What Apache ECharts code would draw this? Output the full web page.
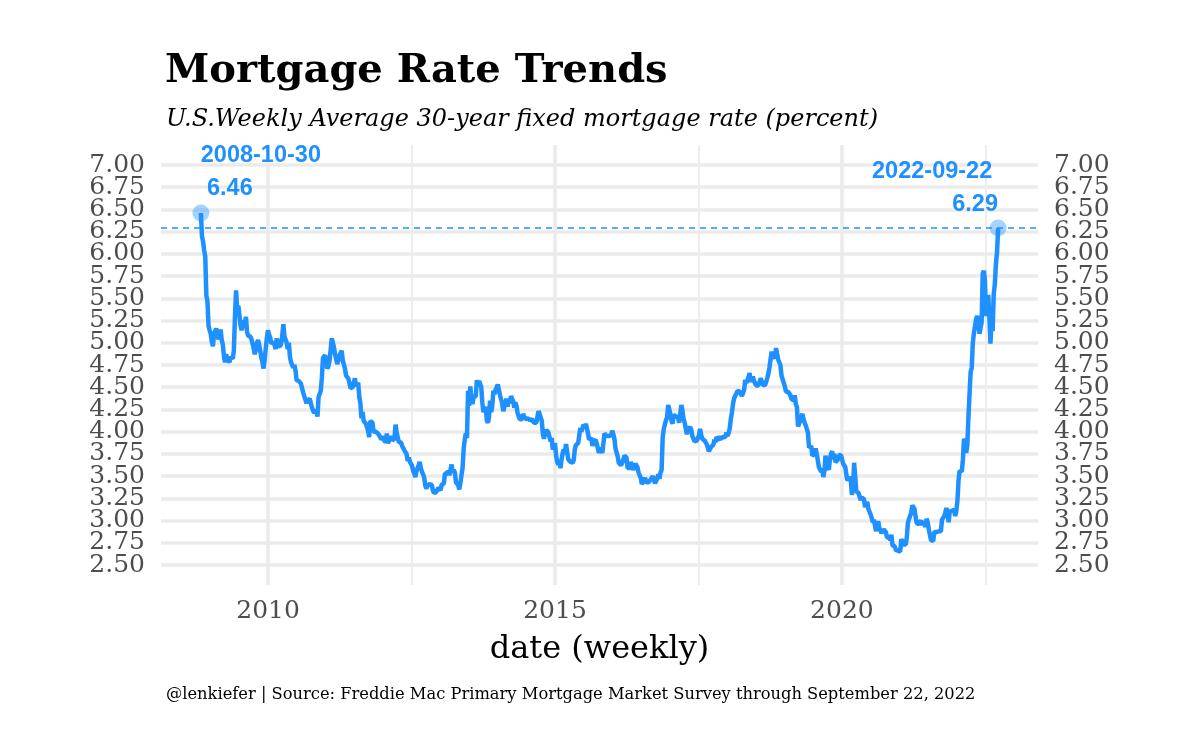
<!DOCTYPE html>
<html><head><meta charset="utf-8">
<script src="https://cdn.jsdelivr.net/npm/echarts@6/dist/echarts.min.js"></script>
<style>html,body{margin:0;padding:0;background:#fff}#c{width:1200px;height:750px}</style>
</head><body><div id="c"></div>
<script>
// Freddie Mac PMMS, 30-year fixed, weekly (percent). Each array starts at the date in weekStarts.
const weekStarts = ['2008-10-30','2009-01-01','2010-01-07','2011-01-06','2012-01-05','2013-01-03','2014-01-02',
  '2015-01-01','2016-01-07','2017-01-05','2018-01-04','2019-01-03','2020-01-02','2021-01-07','2022-01-06'];
const rates2008 = [6.46,6.20,6.14,6.04,5.97,5.53,5.47,5.19,5.14];
const rates2009 = [5.10,5.01,4.96,5.10,5.10, 5.16,5.14,5.04,5.07, 5.15,5.03,4.98,4.85, 4.78,4.87,4.82,4.80,4.78,
  4.84,4.86,4.82,4.91, 5.29,5.59,5.38,5.42, 5.32,5.20,5.14,5.20,5.25, 5.22,5.29,5.12,5.08, 5.08,5.07,5.04,5.04,
  4.94,4.87,4.92,5.00,5.03, 4.98,4.91,4.83,4.78, 4.71,4.81,4.94,5.05,5.14];
const rates2010 = [5.09,5.06,4.99,4.98, 5.01,4.97,4.93,5.05, 4.97,4.95,4.96,4.99, 5.08,5.21,5.07,5.07,5.00,
  4.93,5.00,4.84,4.78, 4.79,4.72,4.75,4.69, 4.58,4.57,4.57,4.56,4.54, 4.49,4.44,4.42,4.36, 4.32,4.35,4.37,4.37,4.32,
  4.27,4.24,4.21,4.23, 4.24,4.17,4.39,4.40, 4.46,4.61,4.83,4.81,4.86];
const rates2011 = [4.77,4.71,4.74,4.80, 4.81,5.05,5.00,4.95, 4.87,4.88,4.76,4.81,4.86, 4.87,4.91,4.80,4.78,
  4.71,4.63,4.61,4.60, 4.55,4.49,4.50,4.50,4.51, 4.60,4.51,4.52,4.55, 4.39,4.32,4.15,4.22, 4.12,4.12,4.09,4.09,4.01,
  3.94,4.12,4.11,4.10, 4.00,3.99,4.00,3.98, 3.98,3.99,3.94,3.91,3.95];
const rates2012 = [3.91,3.89,3.88,3.98, 3.87,3.87,3.92,3.95, 3.90,3.88,3.92,4.08,3.99, 3.98,3.88,3.90,3.88,
  3.84,3.83,3.79,3.78,3.75, 3.67,3.71,3.66,3.66, 3.62,3.56,3.53,3.49, 3.55,3.59,3.62,3.66,3.59, 3.55,3.55,3.49,3.40,
  3.36,3.39,3.37,3.41, 3.40,3.40,3.34,3.31,3.32, 3.32,3.32,3.37,3.35];
const rates2013 = [3.34,3.40,3.38,3.42,3.53, 3.53,3.53,3.56,3.51, 3.52,3.63,3.54,3.57, 3.54,3.43,3.41,3.40,
  3.35,3.42,3.51,3.59,3.81, 3.91,3.98,3.93,4.46, 4.29,4.51,4.37,4.31, 4.39,4.40,4.40,4.58,4.51, 4.57,4.57,4.50,4.32,
  4.22,4.23,4.28,4.13,4.10, 4.16,4.35,4.22,4.29, 4.46,4.42,4.47,4.48];
const rates2014 = [4.53,4.51,4.41,4.39,4.32, 4.23,4.28,4.33,4.37, 4.28,4.37,4.32,4.40, 4.41,4.34,4.27,4.33,
  4.29,4.21,4.20,4.14,4.12, 4.14,4.20,4.17,4.14, 4.15,4.15,4.13,4.13,4.12, 4.14,4.12,4.10,4.10, 4.10,4.12,4.23,4.20,
  4.19,4.12,3.97,3.92,3.98, 4.02,4.01,3.99,3.97, 3.89,3.93,3.80,3.83];
const rates2015 = [3.87,3.73,3.66,3.63,3.66, 3.59,3.69,3.76,3.80, 3.75,3.86,3.78,3.69, 3.70,3.66,3.67,3.65,3.68,
  3.80,3.85,3.84,3.87, 3.87,4.04,4.00,4.02, 4.08,4.04,4.09,4.04,3.98, 3.91,3.93,3.93,3.84, 3.89,3.90,3.91,3.86,
  3.85,3.76,3.82,3.79,3.76, 3.87,3.98,3.97,3.95, 3.93,3.95,3.97,3.96,4.01];
const rates2016 = [3.97,3.92,3.81,3.79, 3.72,3.65,3.65,3.62, 3.64,3.68,3.73,3.71,3.71, 3.59,3.58,3.59,3.66,
  3.61,3.57,3.58,3.64, 3.66,3.60,3.54,3.56,3.48, 3.41,3.42,3.45,3.48, 3.43,3.45,3.43,3.43, 3.46,3.44,3.50,3.48,3.42,
  3.42,3.47,3.52,3.47, 3.54,3.57,3.94,4.03, 4.08,4.13,4.16,4.30,4.32];
const rates2017 = [4.20,4.12,4.09,4.19, 4.19,4.17,4.15,4.16, 4.10,4.21,4.30,4.23,4.14, 4.10,4.08,3.97,4.03,
  4.02,4.05,4.02,3.95, 3.94,3.89,3.91,3.90,3.88, 3.96,4.03,3.96,3.92, 3.93,3.90,3.89,3.86,3.82, 3.78,3.78,3.83,3.83,
  3.85,3.91,3.88,3.94, 3.94,3.90,3.95,3.92,3.90, 3.94,3.93,3.94,3.99];
const rates2018 = [3.95,3.99,4.04,4.15, 4.22,4.32,4.38,4.40, 4.43,4.46,4.44,4.45,4.44, 4.40,4.42,4.47,4.58,
  4.55,4.55,4.61,4.66,4.56, 4.54,4.62,4.57,4.55, 4.52,4.53,4.52,4.54, 4.60,4.59,4.53,4.51,4.52, 4.54,4.60,4.65,4.72,
  4.71,4.90,4.85,4.86, 4.83,4.94,4.94,4.81,4.81, 4.75,4.63,4.62,4.55];
const rates2019 = [4.51,4.45,4.45,4.45,4.46, 4.41,4.37,4.35,4.35, 4.41,4.31,4.28,4.06, 4.08,4.12,4.17,4.20,
  4.14,4.10,4.07,4.06,3.99, 3.82,3.82,3.84,3.73, 3.75,3.75,3.81,3.75, 3.75,3.60,3.60,3.55,3.58, 3.49,3.56,3.73,3.64,
  3.65,3.57,3.69,3.75,3.78, 3.69,3.75,3.66,3.68, 3.68,3.73,3.73,3.74];
const rates2020 = [3.72,3.64,3.65,3.60,3.51, 3.45,3.47,3.49,3.45, 3.29,3.36,3.65,3.50, 3.33,3.33,3.31,3.33,3.23,
  3.26,3.28,3.24,3.15, 3.18,3.21,3.13,3.13, 3.07,3.03,2.98,3.01,2.99, 2.88,2.96,2.99,2.91, 2.93,2.86,2.87,2.90,
  2.88,2.87,2.81,2.80,2.81, 2.78,2.84,2.72,2.72, 2.71,2.67,2.67,2.66,2.67];
const rates2021 = [2.65,2.79,2.77,2.73, 2.73,2.73,2.81,2.97, 3.02,3.05,3.09,3.17, 3.18,3.13,3.04,2.97,2.98,
  2.96,2.94,3.00,2.95, 2.99,2.96,2.93,3.02, 2.98,2.90,2.88,2.78,2.80, 2.77,2.87,2.86,2.87, 2.87,2.88,2.86,2.88,3.01,
  2.99,3.05,3.09,3.14, 3.09,2.98,3.10,3.10, 3.11,3.10,3.12,3.05,3.11];
const rates2022 = [3.22,3.45,3.56,3.55, 3.55,3.69,3.92,3.89, 3.76,3.85,4.16,4.42,4.67, 4.72,5.00,5.11,5.10,
  5.27,5.30,5.25,5.10, 5.09,5.23,5.78,5.81,5.70, 5.30,5.51,5.54,5.30, 4.99,5.22,5.13,5.55, 5.66,5.89,6.02,6.29];
const rateBlocks = [rates2008,rates2009,rates2010,rates2011,rates2012,rates2013,rates2014,rates2015,
  rates2016,rates2017,rates2018,rates2019,rates2020,rates2021,rates2022];

const yTicks = [2.50,2.75,3.00,3.25,3.50,3.75,4.00,4.25,4.50,4.75,5.00,5.25,5.50,5.75,6.00,6.25,6.50,6.75,7.00];
const xMajorTicks = [2010, 2015, 2020];
const xMinorTicks = [2012.5, 2017.5, 2022.5];

const BLUE = '#1E90FF';
const GRIDC = '#EBEBEB';
const SERIF = '"DejaVu Serif", serif';
const SANS = '"Liberation Sans", Arial, sans-serif';

function decYear(ms) {
  const y = new Date(ms).getUTCFullYear();
  const s = Date.UTC(y, 0, 1), e = Date.UTC(y + 1, 0, 1);
  return y + (ms - s) / (e - s);
}
function iso(ms) { return new Date(ms).toISOString().slice(0, 10); }

const points = [];
rateBlocks.forEach((arr, b) => {
  const t0 = Date.parse(weekStarts[b] + 'T00:00:00Z');
  arr.forEach((v, i) => {
    const t = t0 + i * 7 * 86400000;
    points.push([decYear(t), v, iso(t)]);
  });
});
const first = points[0], last = points[points.length - 1];
const xr = last[0] - first[0];
const xMin = first[0] - 0.05 * xr, xMax = last[0] + 0.05 * xr;
const yr = yTicks[yTicks.length - 1] - yTicks[0];
const yMin = yTicks[0] - 0.05 * yr, yMax = yTicks[yTicks.length - 1] + 0.05 * yr;

const gridLines = []
  .concat(yTicks.map(v => ({ yAxis: v, lineStyle: { color: GRIDC, width: 3.5, type: 'solid' } })))
  .concat(xMajorTicks.map(v => ({ xAxis: v, lineStyle: { color: GRIDC, width: 3.5, type: 'solid' } })))
  .concat(xMinorTicks.map(v => ({ xAxis: v, lineStyle: { color: GRIDC, width: 1.8, type: 'solid' } })));

// labels split into two interleaved sets per side so that ECharts does not drop crowded end labels
const evenTicks = yTicks.filter((v, i) => i % 2 === 0);
const oddTicks = yTicks.filter((v, i) => i % 2 === 1);
function yAxisFor(pos, ticks) {
  return {
    type: 'value', min: yMin, max: yMax, position: pos,
    axisLine: { show: false }, axisTick: { show: false }, splitLine: { show: false },
    axisLabel: { customValues: ticks, formatter: v => v.toFixed(2), color: '#4D4D4D',
      fontFamily: SERIF, fontSize: 25, margin: 16, hideOverlap: false }
  };
}

const annoLabel = { show: true, position: 'inside', color: BLUE, fontFamily: SANS, fontWeight: 'bold',
  fontSize: 23.5, textBorderWidth: 0, textBorderColor: 'transparent', textShadowBlur: 0, opacity: 1 };

const chart = echarts.init(document.getElementById('c'), null, { renderer: 'canvas' });
chart.setOption({
  animation: false,
  backgroundColor: '#fff',
  title: [
    { text: 'Mortgage Rate Trends', left: 160, top: 47,
      textStyle: { fontFamily: SERIF, fontWeight: 'bold', fontSize: 40, color: '#000' } },
    { text: 'U.S.Weekly Average 30-year fixed mortgage rate (percent)', left: 161, top: 103,
      textStyle: { fontFamily: SERIF, fontStyle: 'italic', fontWeight: 'normal', fontSize: 24, color: '#000' } },
    { text: '@lenkiefer | Source: Freddie Mac Primary Mortgage Market Survey through September 22, 2022',
      left: 161, top: 682,
      textStyle: { fontFamily: SERIF, fontWeight: 'normal', fontSize: 16.3, color: '#000' } }
  ],
  grid: { left: 161, right: 162, top: 145, bottom: 165 },
  xAxis: {
    type: 'value', min: xMin, max: xMax,
    name: 'date (weekly)', nameLocation: 'middle', nameGap: 49,
    nameTextStyle: { fontFamily: SERIF, fontSize: 32, color: '#000' },
    axisLine: { show: false }, axisTick: { show: false }, splitLine: { show: false },
    axisLabel: { customValues: xMajorTicks, formatter: v => String(Math.round(v)), color: '#4D4D4D',
      fontFamily: SERIF, fontSize: 25, margin: 14 }
  },
  yAxis: [
    yAxisFor('left', evenTicks),
    yAxisFor('left', oddTicks),
    yAxisFor('right', evenTicks),
    yAxisFor('right', oddTicks)
  ],
  series: [
    {
      type: 'line', name: '30-year fixed', data: points, showSymbol: false, symbol: 'none',
      lineStyle: { color: BLUE, width: 4.5 }, z: 5, clip: false,
      markLine: { silent: true, symbol: 'none', z: 1, label: { show: false }, data: gridLines }
    },
    {
      type: 'scatter', data: [[first[0], first[1]]], symbolSize: 17, z: 6,
      itemStyle: { color: 'rgba(30,144,255,0.5)' },
      label: Object.assign({}, annoLabel, { offset: [29, -24], formatter: first[1].toFixed(2) })
    },
    {
      type: 'scatter', data: [[first[0], first[1]]], symbolSize: 1, z: 6,
      itemStyle: { color: 'rgba(0,0,0,0)' },
      label: Object.assign({}, annoLabel, { offset: [60, -57], formatter: first[2] })
    },
    {
      type: 'scatter', data: [[last[0], last[1]]], symbolSize: 17, z: 6,
      itemStyle: { color: 'rgba(30,144,255,0.5)' },
      label: Object.assign({}, annoLabel, { offset: [-23, -24], formatter: last[1].toFixed(2) }),
      markLine: { silent: true, symbol: 'none', z: 2, label: { show: false },
        data: [{ yAxis: last[1], lineStyle: { color: BLUE, width: 1.5, type: [6, 5] } }] }
    },
    {
      type: 'scatter', data: [[last[0], last[1]]], symbolSize: 1, z: 6,
      itemStyle: { color: 'rgba(0,0,0,0)' },
      label: Object.assign({}, annoLabel, { offset: [-66, -57], formatter: last[2] })
    }
  ]
});
</script>
</body></html>
